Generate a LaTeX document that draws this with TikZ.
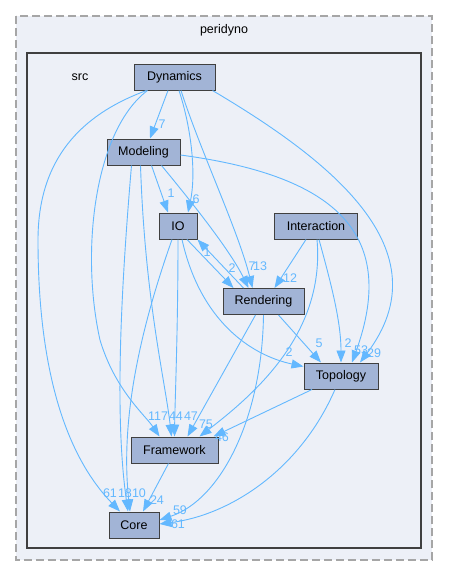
\documentclass[tikz,border=0pt]{standalone}
\usepackage{fontspec}
\setmainfont{Liberation Sans}
\usetikzlibrary{arrows.meta}
\definecolor{clusterbg}{HTML}{EDF0F7}
\definecolor{dashgray}{HTML}{A6A6A6}
\definecolor{darkline}{HTML}{404040}
\definecolor{dirfill}{HTML}{A2B4D6}
\definecolor{depblue}{HTML}{63B8FF}
\tikzset{
  dirbox/.style={draw=darkline,fill=dirfill,line width=1pt,minimum height=26pt,inner sep=0pt,font=\fontsize{12.5}{14}\selectfont},
  dep/.style={draw=depblue,line width=0.9pt,-{Triangle[length=12pt,width=9pt]}},
  cnt/.style={text=depblue,inner sep=0pt,font=\fontsize{12.5}{14}\selectfont},
}
\begin{document}
\begin{tikzpicture}[x=1pt,y=-1pt]
\useasboundingbox (0,0) rectangle (448,576);
% clusters
\draw[dashgray,fill=clusterbg,line width=1.3pt,dash pattern=on 8pt off 4pt] (16,16) rectangle (432,560);
\node[inner sep=0pt,font=\fontsize{12.5}{14}\selectfont] (peridyno) at (224,30) {peridyno};
\draw[darkline,fill=clusterbg,line width=2pt] (27,53) rectangle (421,548);
\node[inner sep=0pt,font=\fontsize{12.5}{14}\selectfont] (src) at (80,77) {src};
% directories
\node[dirbox,minimum width=81pt] (dyn) at (174.5,77) {Dynamics};
\node[dirbox,minimum width=73pt] (mod) at (143.5,152) {Modeling};
\node[dirbox,minimum width=38pt] (io) at (178,226) {IO};
\node[dirbox,minimum width=83pt] (inter) at (316,226) {Interaction};
\node[dirbox,minimum width=81pt] (rend) at (263.5,301.5) {Rendering};
\node[dirbox,minimum width=74pt] (topo) at (341,376) {Topology};
\node[dirbox,minimum width=87pt] (frame) at (174.5,450) {Framework};
\node[dirbox,minimum width=50pt] (core) at (134,525) {Core};
% dependencies
\draw[dep] ([xshift=-6.5pt]dyn.south) -- ([xshift=6.5pt]mod.north);
\draw[dep] ([xshift=4.5pt]dyn.south) .. controls (192,130) and (196,175) .. ([xshift=10pt]io.north);
\draw[dep] ([xshift=6.5pt]dyn.south) .. controls (200,150) and (238,230) .. ([xshift=-11pt]rend.north);
\draw[dep] ([xshift=38pt]dyn.south) .. controls (330,160) and (445,250) .. ([xshift=19pt]topo.north);
\draw[dep] ([xshift=-28pt]dyn.south) .. controls (80,115) and (38,160) .. (38,240) .. controls (38,400) and (80,470) .. ([xshift=-14pt]core.north);
\draw[dep] ([xshift=-27pt]dyn.south) .. controls (95,130) and (80,250) .. (100,340) .. controls (115,390) and (145,415) .. ([xshift=-15pt]frame.north);
\draw[dep] ([xshift=8pt]mod.south) -- ([xshift=-10pt]io.north);
\draw[dep] ([xshift=18pt]mod.south) .. controls (190,200) and (230,250) .. ([xshift=-15pt]rend.north);
\draw[dep] ([yshift=-3pt]mod.east) .. controls (330,175) and (400,230) .. ([xshift=11pt]topo.north);
\draw[dep] ([xshift=-3pt]mod.south) .. controls (145,300) and (165,380) .. ([xshift=-3pt]frame.north);
\draw[dep] ([xshift=-12pt]mod.south) .. controls (120,300) and (115,420) .. ([xshift=-6pt]core.north);
\draw[dep] ([xshift=-6pt]io.south) .. controls (140,330) and (120,420) .. ([xshift=-4pt]core.north);
\draw[dep] (io.south) .. controls (178,330) and (175,400) .. (frame.north);
\draw[dep] ([xshift=9pt]io.south) -- ([xshift=-30pt]rend.north);
\draw[dep] ([xshift=-20pt]rend.north) -- (io.south east);
\draw[dep] ([xshift=4pt]io.south) .. controls (200,320) and (250,355) .. ([yshift=-4pt]topo.north west);
\draw[dep] ([xshift=-10pt]inter.south) -- ([xshift=11pt]rend.north);
\draw[dep] ([xshift=3pt]inter.south) .. controls (330,280) and (341,320) .. (topo.north);
\draw[dep] ([xshift=1pt]inter.south) .. controls (325,330) and (260,390) .. ([xshift=25pt]frame.north);
\draw[dep] ([xshift=15pt]rend.south) -- ([xshift=-20pt]topo.north);
\draw[dep] ([xshift=-8pt]rend.south) -- ([xshift=13pt]frame.north);
\draw[dep] (rend.south) .. controls (262,420) and (220,500) .. ([yshift=5pt]core.east);
\draw[dep] ([xshift=-29pt]topo.south) -- ([xshift=-5pt]frame.north east);
\draw[dep] ([xshift=-6pt]topo.south) .. controls (300,470) and (230,515) .. ([yshift=1pt]core.east);
\draw[dep] ([xshift=-6pt]frame.south) -- ([xshift=9pt]core.north);
% counts
\foreach \nm/\x/\y/\t in {cdm/162/124/7, cdi/196/199/6, cmi/171/193/1, cri/207/252/1, cir/232/268/2,
  cdr/252/266/7, cmr/260/266/13, cxr/290/278/12, cit/289/352/2, crt/319/343/5, cxt/348/343/2,
  cdt/361/350/53, cmt/374/353/29, cdf/158/416/117, cmf/176/416/44, cif/191/416/47, cxf/206/424/75,
  ctf/222/437/46, cdc/110/493/61, cmc/125/493/18, cic/139/493/10, cfc/157/500/24, crc/180/510/59, ctc/178/524/61}
  \node[cnt] (\nm) at (\x,\y) {\t};
\end{tikzpicture}
\end{document}
